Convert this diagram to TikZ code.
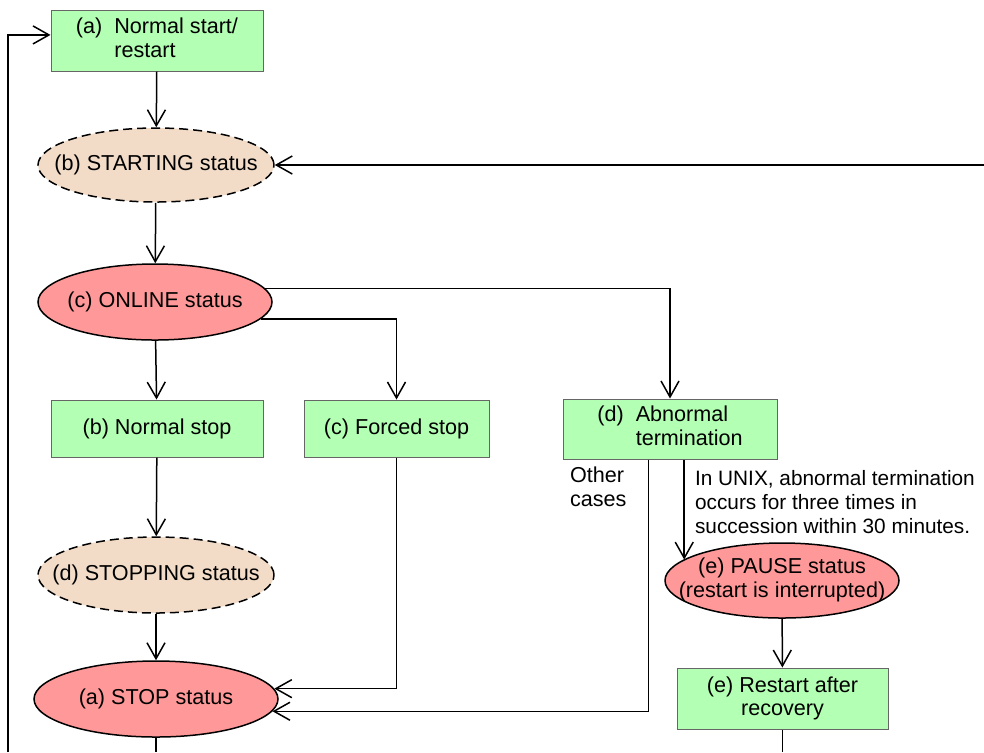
\documentclass[tikz,border=0pt]{standalone}
\usepackage{fontspec}
\setmainfont{Liberation Sans}
\usetikzlibrary{shapes.geometric,arrows.meta}
\definecolor{actiongreen}{RGB}{179,255,179}
\definecolor{statepink}{RGB}{255,153,153}
\definecolor{transtan}{RGB}{242,220,200}
\newcommand\ovaltext[1]{\makebox[0pt]{#1}}

\begin{document}
\begin{tikzpicture}[x=0.5pt, y=-0.5pt,
    every node/.style={font=\fontsize{10.8}{11.8}\selectfont},
    action/.style={rectangle, draw=black!60, line width=0.5pt, fill=actiongreen,
      minimum width=106pt, minimum height=28.5pt, inner sep=0pt, align=center},
    state/.style={ellipse, draw, line width=0.75pt, fill=statepink,
      minimum width=117pt, minimum height=38pt, inner sep=0pt},
    transit/.style={state, fill=transtan, dash pattern=on 4.5pt off 2.5pt},
    flow/.style={-{Straight Barb[length=8pt, width=9pt]}, line width=0.75pt}]
  \useasboundingbox (0,0) rectangle (984,752);
  \fill [white] (0,0) rectangle (984,752);

  \node [action, minimum height=30.5pt] (start) at (157,40.5)
    {\begin{tabular}{@{}l@{\ \ }l@{}}(a) & Normal start/\\ & restart\end{tabular}};
  \node [transit, minimum width=118pt, minimum height=37pt] (starting) at (156,165)
    {\ovaltext{(b) STARTING status}};
  \node [state] (online) at (155,302) {\ovaltext{(c) ONLINE status}};
  \node [action] (nstop) at (157,428.5) {(b) Normal stop};
  \node [action, minimum width=92.5pt] (fstop) at (396.5,428.5) {(c) Forced stop};
  \node [action, minimum width=107pt, minimum height=30pt] (abnormal) at (670,429)
    {\begin{tabular}{@{}l@{\ \ }l@{}}(d) & Abnormal\\ & termination\end{tabular}};
  \node [transit, minimum width=118pt] (stopping) at (156,575)
    {\ovaltext{(d) STOPPING status}};
  \node [state, minimum width=122pt] (stop) at (156,699) {\ovaltext{(a) STOP status}};
  \node [state, minimum height=37.5pt] (pause) at (782,580.5)
    {\ovaltext{\begin{tabular}{@{}c@{}}(e) PAUSE status\\(restart is interrupted)\end{tabular}}};
  \node [action, minimum width=105.5pt, minimum height=30.5pt] (restart) at (782.5,698.5)
    {(e) Restart after\\recovery};

  \node [anchor=west, align=left] (othercases) at (563,487) {Other\\cases};
  \node [anchor=west, align=left, font=\fontsize{10.4}{11.8}\selectfont] (unixnote) at (688,502)
    {In UNIX, abnormal termination\\occurs for three times in\\succession within 30 minutes.};

  \coordinate (rightin) at (984,165);
  \coordinate (leftout) at (8,752);
  \coordinate (stopout) at (156,752);
  \coordinate (restartout) at (782.5,752);

  \draw [flow] (start) -- (starting);
  \draw [flow] (rightin) -- (starting);
  \draw [flow] (starting) -- (online);
  \draw [flow] (online) -- (nstop);
  \draw [flow] (online.-9) -| (fstop);
  \draw [flow] (online.7) -| (abnormal);
  \draw [flow] (nstop) -- (stopping);
  \draw [flow] (stopping) -- (stop);
  \draw [flow] (fstop) |- (stop.5);
  \draw [flow] (abnormal.-125) |- (stop.-6);
  \draw [flow] (abnormal.-65) -- (abnormal.-65 |- pause.168);
  \draw [flow] (pause) -- (restart);
  \draw [line width=0.75pt] (stop) -- (stopout);
  \draw [line width=0.75pt] (restart) -- (restartout);
  \draw [flow] (leftout) |- (start.177);
\end{tikzpicture}
\end{document}
